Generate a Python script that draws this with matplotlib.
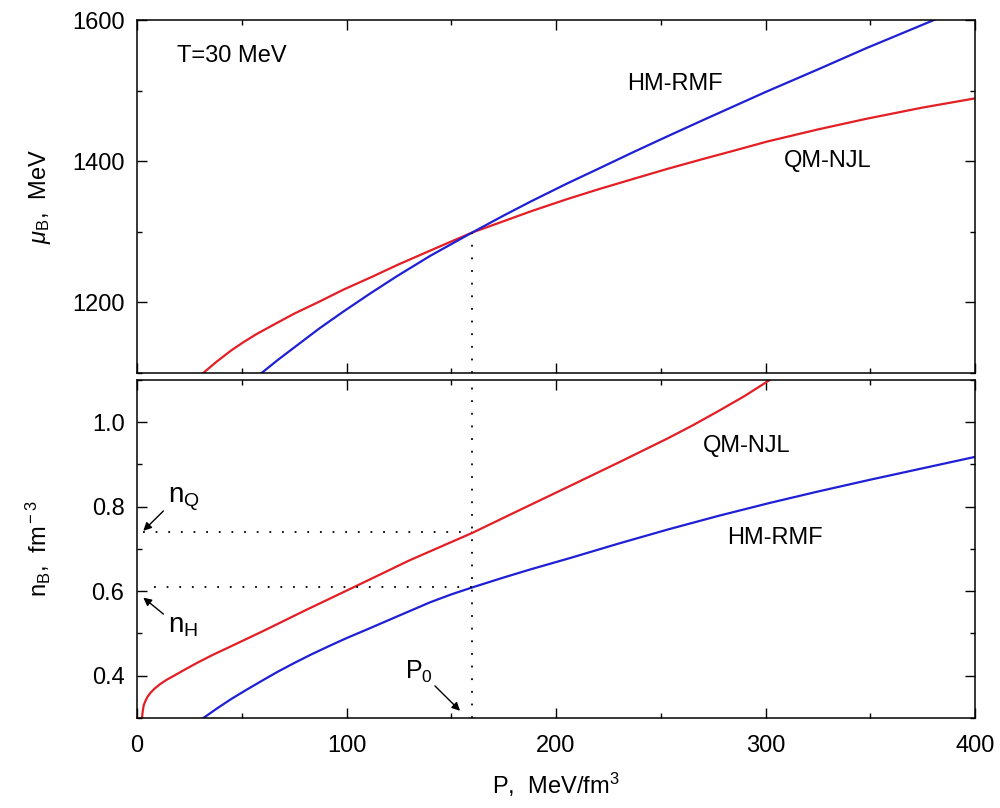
import matplotlib.pyplot as plt
from matplotlib.ticker import MultipleLocator

plt.rcParams['font.family'] = ['Liberation Sans', 'DejaVu Sans']
plt.rcParams['mathtext.fontset'] = 'custom'
plt.rcParams['mathtext.rm'] = 'Liberation Sans'
plt.rcParams['mathtext.it'] = 'Liberation Sans:italic'

# chemical potential vs pressure (top panel)
p_mu_qm = [31.6, 38, 45, 51, 57, 65, 75, 87, 98.5, 112, 125, 142, 160, 175, 188, 205, 220,
           237, 253, 270, 285, 301, 325, 348, 375, 400]
mu_qm = [1100, 1116, 1132, 1144, 1155, 1168, 1184, 1201, 1218, 1236, 1254, 1276, 1299, 1315,
         1329, 1346, 1360, 1375, 1389, 1403, 1415, 1428, 1445, 1460, 1476, 1489]
p_mu_hm = [59.5, 67, 75, 87, 98.5, 111, 124, 140, 160, 175, 188, 205, 220, 237, 253, 270,
           285, 300, 325, 348, 365, 382]
mu_hm = [1100, 1118, 1136, 1163, 1187, 1212, 1237, 1266, 1299, 1323, 1343, 1368, 1389, 1413,
         1435, 1458, 1478, 1498, 1530, 1560, 1581, 1602]

# baryon density vs pressure (bottom panel)
p_n_qm = [2.4, 2.7, 3.2, 4, 5, 6.5, 8.5, 11, 14, 18, 23, 28.5, 36, 45, 60.3, 80, 104.9, 130,
          160, 183, 207, 230, 253, 265, 277, 290, 302]
n_qm = [0.30, 0.315, 0.33, 0.34, 0.35, 0.36, 0.37, 0.38, 0.39, 0.401, 0.415, 0.43, 0.449,
        0.470, 0.506, 0.554, 0.613, 0.673, 0.738, 0.793, 0.85, 0.905, 0.961, 0.992, 1.025,
        1.062, 1.10]
p_n_hm = [31.7, 38, 45, 52, 60.3, 67, 75, 83, 92, 100, 110, 124, 140, 150, 160, 175, 188, 207,
          230, 254, 278, 302, 325, 350, 375, 400]
n_hm = [0.30, 0.322, 0.345, 0.366, 0.39, 0.409, 0.43, 0.45, 0.471, 0.489, 0.51, 0.54, 0.574,
        0.5925, 0.609, 0.6325, 0.652, 0.679, 0.713, 0.747, 0.779, 0.809, 0.836, 0.864, 0.891,
        0.918]

# phase transition point
p0 = 160
mu0 = 1299
n_q = 0.74
n_h = 0.61

red = '#e31e24'
blue = '#1f1fd6'

fig = plt.figure(figsize=(10, 8.08), dpi=100)
ax1 = fig.add_axes([0.137, 0.5384, 0.838, 0.4368])
ax2 = fig.add_axes([0.137, 0.1114, 0.838, 0.4183])

# top panel
ax1.plot(p_mu_qm, mu_qm, color=red, lw=1.6)
ax1.plot(p_mu_hm, mu_hm, color=blue, lw=1.6)
ax1.plot([p0, p0], [1100, mu0], color='k', lw=1.3, ls=(0, (1, 6)))
ax1.set_xlim(0, 400)
ax1.set_ylim(1100, 1600)
ax1.set_ylabel(r'$\mu_{\rm B}$,  MeV', fontsize=17)
ax1.yaxis.set_label_coords(-0.1, 0.5)
ax1.set_xticklabels([])
ax1.text(19.2, 1540, 'T=30 MeV', fontsize=17)
ax1.text(234, 1501, 'HM-RMF', fontsize=17)
ax1.text(309, 1392, 'QM-NJL', fontsize=17)

# bottom panel
ax2.plot(p_n_qm, n_qm, color=red, lw=1.6)
ax2.plot(p_n_hm, n_hm, color=blue, lw=1.6)
ax2.plot([p0, p0], [0.3, 1.1], color='k', lw=1.3, ls=(0, (1, 6)))
ax2.plot([3, p0], [n_q, n_q], color='k', lw=1.3, ls=(0, (1, 6)))
ax2.plot([8, p0], [n_h, n_h], color='k', lw=1.3, ls=(0, (1, 6)))
ax2.set_xlim(0, 400)
ax2.set_ylim(0.3, 1.1)
ax2.set_xlabel(r'P,  MeV/fm$^{\rm 3}$', fontsize=17, labelpad=10)
ax2.set_ylabel(r'n$_{\rm B}$,  fm$^{\rm -3}$', fontsize=17)
ax2.yaxis.set_label_coords(-0.1, 0.5)
ax2.text(270, 0.929, 'QM-NJL', fontsize=17)
ax2.text(281.6, 0.711, 'HM-RMF', fontsize=17)

arrow = dict(arrowstyle='-|>', color='k', lw=1.0, mutation_scale=12, shrinkA=0, shrinkB=0)
ax2.annotate('', xy=(3.0, 0.743), xytext=(12.6, 0.79), arrowprops=arrow)
ax2.text(14.8, 0.811, r'n$_{\rm Q}$', fontsize=20)
ax2.annotate('', xy=(3.0, 0.585), xytext=(12.6, 0.546), arrowprops=arrow)
ax2.text(14.8, 0.503, r'n$_{\rm H}$', fontsize=20)
ax2.annotate('', xy=(154.2, 0.317), xytext=(142.2, 0.376), arrowprops=arrow)
ax2.text(127.9, 0.392, r'P$_{\rm 0}$', fontsize=18)

for ax, ymaj, ymin in [(ax1, 200, 100), (ax2, 0.2, 0.1)]:
    ax.xaxis.set_major_locator(MultipleLocator(100))
    ax.xaxis.set_minor_locator(MultipleLocator(50))
    ax.yaxis.set_major_locator(MultipleLocator(ymaj))
    ax.yaxis.set_minor_locator(MultipleLocator(ymin))
    ax.tick_params(which='both', direction='in', top=True, right=True, labelsize=17)
    ax.tick_params(which='major', length=7, width=1)
    ax.tick_params(which='minor', length=3.5, width=1)
    ax.tick_params(axis='y', pad=9)
    ax.tick_params(axis='x', pad=12)
    for s in ax.spines.values():
        s.set_linewidth(1.1)

plt.savefig('out.png', dpi=100)
